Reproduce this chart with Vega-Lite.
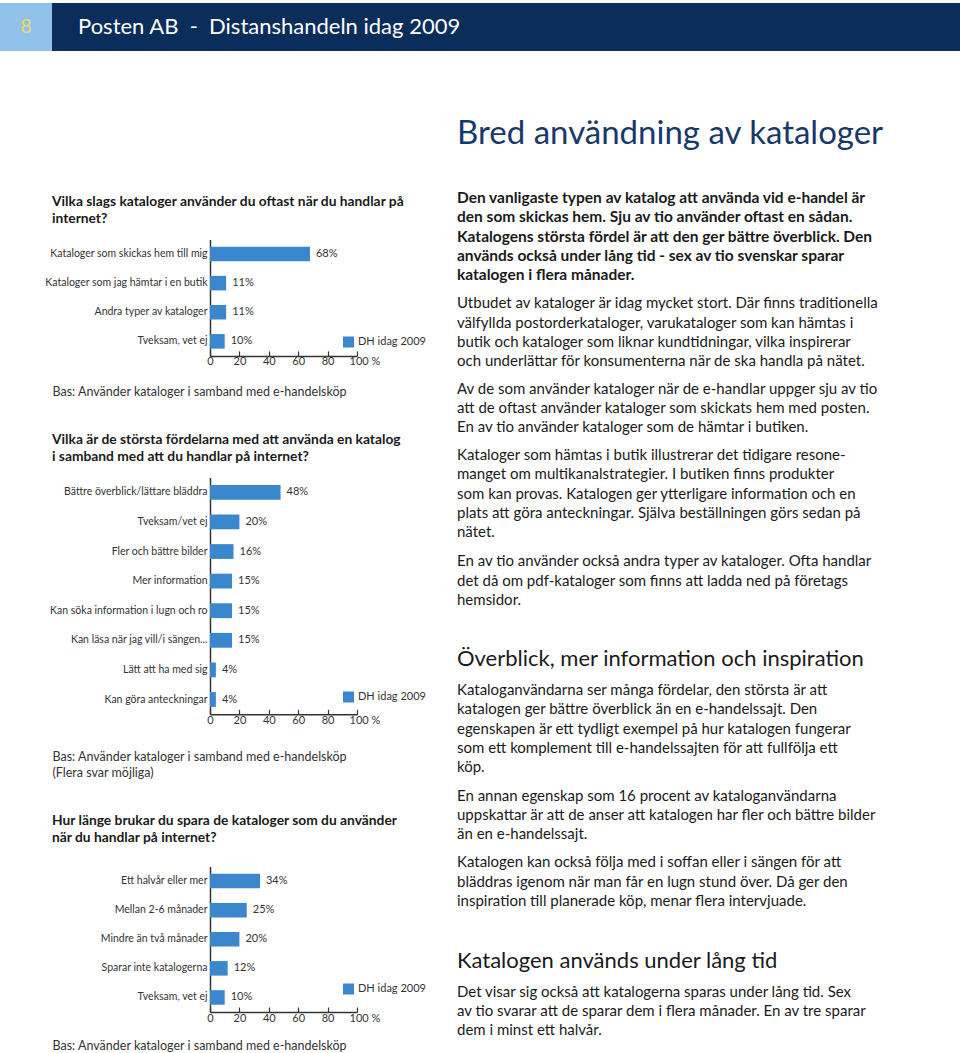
{
  "$schema": "https://vega.github.io/schema/vega-lite/v6.json",
  "padding": {"top": 3, "left": 0, "right": 0, "bottom": 0},
  "background": "white",
  "config": {
    "view": {"stroke": null},
    "font": "Lato",
    "text": {"font": "Lato"},
    "title": {"font": "Lato", "anchor": "start", "frame": "group", "color": "#1a1a1a"},
    "axis": {"labelFont": "Lato", "titleFont": "Lato"},
    "legend": {"labelFont": "Lato"}
  },
  "datasets": {
    "typer": [
      {"kategori": "Kataloger som skickas hem till mig", "andel": 68, "etikett": "68%", "serie": "DH idag 2009"},
      {"kategori": "Kataloger som jag hämtar i en butik", "andel": 11, "etikett": "11%", "serie": "DH idag 2009"},
      {"kategori": "Andra typer av kataloger", "andel": 11, "etikett": "11%", "serie": "DH idag 2009"},
      {"kategori": "Tveksam, vet ej", "andel": 10, "etikett": "10%", "serie": "DH idag 2009"}
    ],
    "fordelar": [
      {"kategori": "Bättre överblick/lättare bläddra", "andel": 48, "etikett": "48%", "serie": "DH idag 2009"},
      {"kategori": "Tveksam/vet ej", "andel": 20, "etikett": "20%", "serie": "DH idag 2009"},
      {"kategori": "Fler och bättre bilder", "andel": 16, "etikett": "16%", "serie": "DH idag 2009"},
      {"kategori": "Mer information", "andel": 15, "etikett": "15%", "serie": "DH idag 2009"},
      {"kategori": "Kan söka information i lugn och ro", "andel": 15, "etikett": "15%", "serie": "DH idag 2009"},
      {"kategori": "Kan läsa när jag vill/i sängen...", "andel": 15, "etikett": "15%", "serie": "DH idag 2009"},
      {"kategori": "Lätt att ha med sig", "andel": 4, "etikett": "4%", "serie": "DH idag 2009"},
      {"kategori": "Kan göra anteckningar", "andel": 4, "etikett": "4%", "serie": "DH idag 2009"}
    ],
    "spara": [
      {"kategori": "Ett halvår eller mer", "andel": 34, "etikett": "34%", "serie": "DH idag 2009"},
      {"kategori": "Mellan 2-6 månader", "andel": 25, "etikett": "25%", "serie": "DH idag 2009"},
      {"kategori": "Mindre än två månader", "andel": 20, "etikett": "20%", "serie": "DH idag 2009"},
      {"kategori": "Sparar inte katalogerna", "andel": 12, "etikett": "12%", "serie": "DH idag 2009"},
      {"kategori": "Tveksam, vet ej", "andel": 10, "etikett": "10%", "serie": "DH idag 2009"}
    ],
    "tom": [{"t": ""}],
    "sida": [{"t": "8"}],
    "rubrik": [{"t": "Posten AB\u00a0\u00a0-\u00a0\u00a0Distanshandeln idag 2009"}]
  },
  "spacing": 54.5,
  "vconcat": [
    {
      "spacing": 0,
      "hconcat": [
        {
          "width": 52, "height": 48,
          "view": {"fill": "#8fc1ea"},
          "data": {"name": "sida"},
          "mark": {"type": "text", "fontSize": 20, "color": "#e9d56e"},
          "encoding": {"text": {"field": "t"}}
        },
        {
          "width": 908, "height": 48,
          "view": {"fill": "#0a2d5c"},
          "data": {"name": "rubrik"},
          "mark": {"type": "text", "fontSize": 22, "color": "white", "align": "left", "dx": -428},
          "encoding": {"text": {"field": "t"}}
        }
      ]
    },
    {
      "spacing": 31,
      "hconcat": [
        {"width": 13, "height": 1, "data": {"name": "tom"}, "mark": {"type": "text"}, "encoding": {"text": {"field": "t"}}},
        {
          "spacing": 34,
          "resolve": {"scale": {"color": "independent"}, "legend": {"color": "independent"}},
          "vconcat": [
            {"width": 10, "height": 49, "data": {"name": "tom"}, "mark": {"type": "text"}, "encoding": {"text": {"field": "t"}}},
            {
              "width": 147,
              "height": {"step": 29.1},
              "title": {"text": ["Vilka slags kataloger använder du oftast när du handlar på", "internet?"], "dx": -158, "fontSize": 13.8, "fontWeight": "bold", "lineHeight": 16.5, "offset": 14},
              "data": {"name": "typer"},
              "encoding": {
                "y": {"field": "kategori", "type": "nominal", "sort": null, "scale": {"paddingInner": 0.5, "paddingOuter": 0.25},
                  "axis": {"title": null, "ticks": false, "domainColor": "#333", "domainWidth": 1.5, "labelFontSize": 10.5, "labelColor": "#333", "labelPadding": 3, "minExtent": 158, "maxExtent": 158, "labelLimit": 200}},
                "x": {"field": "andel", "type": "quantitative", "scale": {"domain": [0, 100]},
                  "axis": {"values": [0, 20, 40, 60, 80, 100], "grid": false, "tickSize": -5, "tickColor": "#333", "tickWidth": 1.2, "domainColor": "#333", "domainWidth": 1.5, "labelFontSize": 11, "labelColor": "#333", "labelPadding": 5, "labelFlush": false,
                    "labelExpr": "datum.value == 100 ? '100 %' : datum.label",
                    "labelAlign": {"condition": {"test": "datum.value == 100", "value": "left"}, "value": "center"},
                    "labelOffset": {"condition": {"test": "datum.value == 100", "value": -8}, "value": 0},
                    "title": "Bas: Använder kataloger i samband med e-handelsköp", "titleFontSize": 12.5, "titleFontWeight": "normal", "titleColor": "#333", "titleAnchor": "start", "titleAlign": "left", "titleBaseline": "top", "titleX": -158, "titleY": 30}}
              },
              "layer": [
                {"mark": {"type": "bar"},
                  "encoding": {"color": {"field": "serie", "type": "nominal", "scale": {"range": ["#3a87cd"]},
                    "legend": {"title": null, "orient": "none", "legendX": 133, "legendY": 97, "symbolType": "square", "symbolSize": 121, "symbolStrokeWidth": 0, "labelFontSize": 11, "labelColor": "#333", "labelOffset": 4}}}},
                {"mark": {"type": "text", "align": "left", "dx": 6, "fontSize": 11, "color": "#333"},
                  "encoding": {"text": {"field": "etikett"}}}
              ]
            },
            {
              "width": 147,
              "height": {"step": 29.6},
              "title": {"text": ["Vilka är de största fördelarna med att använda en katalog", "i samband med att du handlar på internet?"], "dx": -158, "fontSize": 13.8, "fontWeight": "bold", "lineHeight": 16.5, "offset": 14},
              "data": {"name": "fordelar"},
              "encoding": {
                "y": {"field": "kategori", "type": "nominal", "sort": null, "scale": {"paddingInner": 0.5, "paddingOuter": 0.25},
                  "axis": {"title": null, "ticks": false, "domainColor": "#333", "domainWidth": 1.5, "labelFontSize": 10.5, "labelColor": "#333", "labelPadding": 3, "minExtent": 158, "maxExtent": 158, "labelLimit": 200}},
                "x": {"field": "andel", "type": "quantitative", "scale": {"domain": [0, 100]},
                  "axis": {"values": [0, 20, 40, 60, 80, 100], "grid": false, "tickSize": -5, "tickColor": "#333", "tickWidth": 1.2, "domainColor": "#333", "domainWidth": 1.5, "labelFontSize": 11, "labelColor": "#333", "labelPadding": 5, "labelFlush": false,
                    "labelExpr": "datum.value == 100 ? '100 %' : datum.label",
                    "labelAlign": {"condition": {"test": "datum.value == 100", "value": "left"}, "value": "center"},
                    "labelOffset": {"condition": {"test": "datum.value == 100", "value": -8}, "value": 0},
                    "title": ["Bas: Använder kataloger i samband med e-handelsköp", "(Flera svar möjliga)"], "titleLineHeight": 16, "titleFontSize": 12.5, "titleFontWeight": "normal", "titleColor": "#333", "titleAnchor": "start", "titleAlign": "left", "titleBaseline": "top", "titleX": -158, "titleY": 36}}
              },
              "layer": [
                {"mark": {"type": "bar"},
                  "encoding": {"color": {"field": "serie", "type": "nominal", "scale": {"range": ["#3a87cd"]},
                    "legend": {"title": null, "orient": "none", "legendX": 133, "legendY": 214, "symbolType": "square", "symbolSize": 121, "symbolStrokeWidth": 0, "labelFontSize": 11, "labelColor": "#333", "labelOffset": 4}}}},
                {"mark": {"type": "text", "align": "left", "dx": 6, "fontSize": 11, "color": "#333"},
                  "encoding": {"text": {"field": "etikett"}}}
              ]
            },
            {
              "width": 147,
              "height": {"step": 29.1},
              "title": {"text": ["Hur länge brukar du spara de kataloger som du använder", "när du handlar på internet?"], "dx": -158, "fontSize": 13.8, "fontWeight": "bold", "lineHeight": 16.5, "offset": 22},
              "data": {"name": "spara"},
              "encoding": {
                "y": {"field": "kategori", "type": "nominal", "sort": null, "scale": {"paddingInner": 0.5, "paddingOuter": 0.25},
                  "axis": {"title": null, "ticks": false, "domainColor": "#333", "domainWidth": 1.5, "labelFontSize": 10.5, "labelColor": "#333", "labelPadding": 3, "minExtent": 158, "maxExtent": 158, "labelLimit": 200}},
                "x": {"field": "andel", "type": "quantitative", "scale": {"domain": [0, 100]},
                  "axis": {"values": [0, 20, 40, 60, 80, 100], "grid": false, "tickSize": -5, "tickColor": "#333", "tickWidth": 1.2, "domainColor": "#333", "domainWidth": 1.5, "labelFontSize": 11, "labelColor": "#333", "labelPadding": 5, "labelFlush": false,
                    "labelExpr": "datum.value == 100 ? '100 %' : datum.label",
                    "labelAlign": {"condition": {"test": "datum.value == 100", "value": "left"}, "value": "center"},
                    "labelOffset": {"condition": {"test": "datum.value == 100", "value": -8}, "value": 0},
                    "title": "Bas: Använder kataloger i samband med e-handelsköp", "titleFontSize": 12.5, "titleFontWeight": "normal", "titleColor": "#333", "titleAnchor": "start", "titleAlign": "left", "titleBaseline": "top", "titleX": -158, "titleY": 27}}
              },
              "layer": [
                {"mark": {"type": "bar"},
                  "encoding": {"color": {"field": "serie", "type": "nominal", "scale": {"range": ["#3a87cd"]},
                    "legend": {"title": null, "orient": "none", "legendX": 133, "legendY": 117, "symbolType": "square", "symbolSize": 121, "symbolStrokeWidth": 0, "labelFontSize": 11, "labelColor": "#333", "labelOffset": 4}}}},
                {"mark": {"type": "text", "align": "left", "dx": 6, "fontSize": 11, "color": "#333"},
                  "encoding": {"text": {"field": "etikett"}}}
              ]
            }
          ]
        },
        {
          "spacing": 0,
          "vconcat": [
            {"width": 435, "height": 1, "data": {"name": "tom"}, "mark": {"type": "text"}, "encoding": {"text": {"field": "t"}}},
            {"width": 435, "height": 1, "data": {"name": "tom"}, "mark": {"type": "text"}, "encoding": {"text": {"field": "t"}},
              "title": {"text": "Bred användning av kataloger", "fontSize": 33, "fontWeight": "normal", "color": "#17386a", "offset": 28}},
            {"width": 435, "height": 1, "data": {"name": "tom"}, "mark": {"type": "text"}, "encoding": {"text": {"field": "t"}},
              "title": {"text": ["Den vanligaste typen av katalog att använda vid e-handel är", "den som skickas hem. Sju av tio använder oftast en sådan.", "Katalogens största fördel är att den ger bättre överblick. Den", "används också under lång tid - sex av tio svenskar sparar", "katalogen i flera månader."], "fontSize": 15.5, "fontWeight": "bold", "lineHeight": 19.4, "offset": 0}},
            {"width": 435, "height": 1, "data": {"name": "tom"}, "mark": {"type": "text"}, "encoding": {"text": {"field": "t"}},
              "title": {"text": ["Utbudet av kataloger är idag mycket stort. Där finns traditionella", "välfyllda postorderkataloger,  varukataloger som kan hämtas i", "butik och kataloger som liknar kundtidningar, vilka inspirerar", "och underlättar för konsumenterna när de ska handla på nätet."], "fontSize": 15, "fontWeight": "normal", "lineHeight": 19.4, "offset": 0.5}},
            {"width": 435, "height": 1, "data": {"name": "tom"}, "mark": {"type": "text"}, "encoding": {"text": {"field": "t"}},
              "title": {"text": ["Av de som använder kataloger när de e-handlar uppger sju av tio", "att de oftast använder kataloger som skickats hem med posten.", "En av tio använder kataloger som de hämtar i butiken."], "fontSize": 15, "fontWeight": "normal", "lineHeight": 19.4, "offset": 0.5}},
            {"width": 435, "height": 1, "data": {"name": "tom"}, "mark": {"type": "text"}, "encoding": {"text": {"field": "t"}},
              "title": {"text": ["Kataloger som hämtas i butik illustrerar det tidigare resone-", "manget om multikanalstrategier. I butiken finns produkter", "som kan provas. Katalogen ger ytterligare information och en", "plats att göra anteckningar. Själva beställningen görs sedan på", "nätet."], "fontSize": 15, "fontWeight": "normal", "lineHeight": 19.4, "offset": 1.5}},
            {"width": 435, "height": 1, "data": {"name": "tom"}, "mark": {"type": "text"}, "encoding": {"text": {"field": "t"}},
              "title": {"text": ["En av tio använder också andra typer av kataloger. Ofta handlar", "det då om pdf-kataloger som finns att ladda ned på företags", "hemsidor."], "fontSize": 15, "fontWeight": "normal", "lineHeight": 19.4, "offset": 28}},
            {"width": 435, "height": 1, "data": {"name": "tom"}, "mark": {"type": "text"}, "encoding": {"text": {"field": "t"}},
              "title": {"text": "Överblick, mer information och inspiration", "fontSize": 22, "fontWeight": "normal", "offset": 0}},
            {"width": 435, "height": 1, "data": {"name": "tom"}, "mark": {"type": "text"}, "encoding": {"text": {"field": "t"}},
              "title": {"text": ["Kataloganvändarna ser många fördelar, den största är att", "katalogen ger bättre överblick än en e-handelssajt. Den", "egenskapen är ett tydligt exempel på hur katalogen fungerar", "som ett komplement till e-handelssajten för att fullfölja ett", "köp."], "fontSize": 15, "fontWeight": "normal", "lineHeight": 19.4, "offset": 1.5}},
            {"width": 435, "height": 1, "data": {"name": "tom"}, "mark": {"type": "text"}, "encoding": {"text": {"field": "t"}},
              "title": {"text": ["En annan egenskap som 16 procent av kataloganvändarna", "uppskattar är att de anser att katalogen har fler och bättre bilder", "än en e-handelssajt."], "fontSize": 15, "fontWeight": "normal", "lineHeight": 19.4, "offset": 0.5}},
            {"width": 435, "height": 1, "data": {"name": "tom"}, "mark": {"type": "text"}, "encoding": {"text": {"field": "t"}},
              "title": {"text": ["Katalogen kan också följa med i soffan eller i sängen för att", "bläddras igenom när man får en lugn stund över. Då ger den", "inspiration till planerade köp, menar flera intervjuade."], "fontSize": 15, "fontWeight": "normal", "lineHeight": 19.4, "offset": 29}},
            {"width": 435, "height": 1, "data": {"name": "tom"}, "mark": {"type": "text"}, "encoding": {"text": {"field": "t"}},
              "title": {"text": "Katalogen används under lång tid", "fontSize": 22, "fontWeight": "normal", "offset": 0}},
            {"width": 435, "height": 1, "data": {"name": "tom"}, "mark": {"type": "text"}, "encoding": {"text": {"field": "t"}},
              "title": {"text": ["Det visar sig också att katalogerna sparas under lång tid. Sex", "av tio svarar att de sparar dem i flera månader. En av tre sparar", "dem i minst ett halvår."], "fontSize": 15, "fontWeight": "normal", "lineHeight": 19.4, "offset": 0.5}}
          ]
        }
      ]
    }
  ]
}
